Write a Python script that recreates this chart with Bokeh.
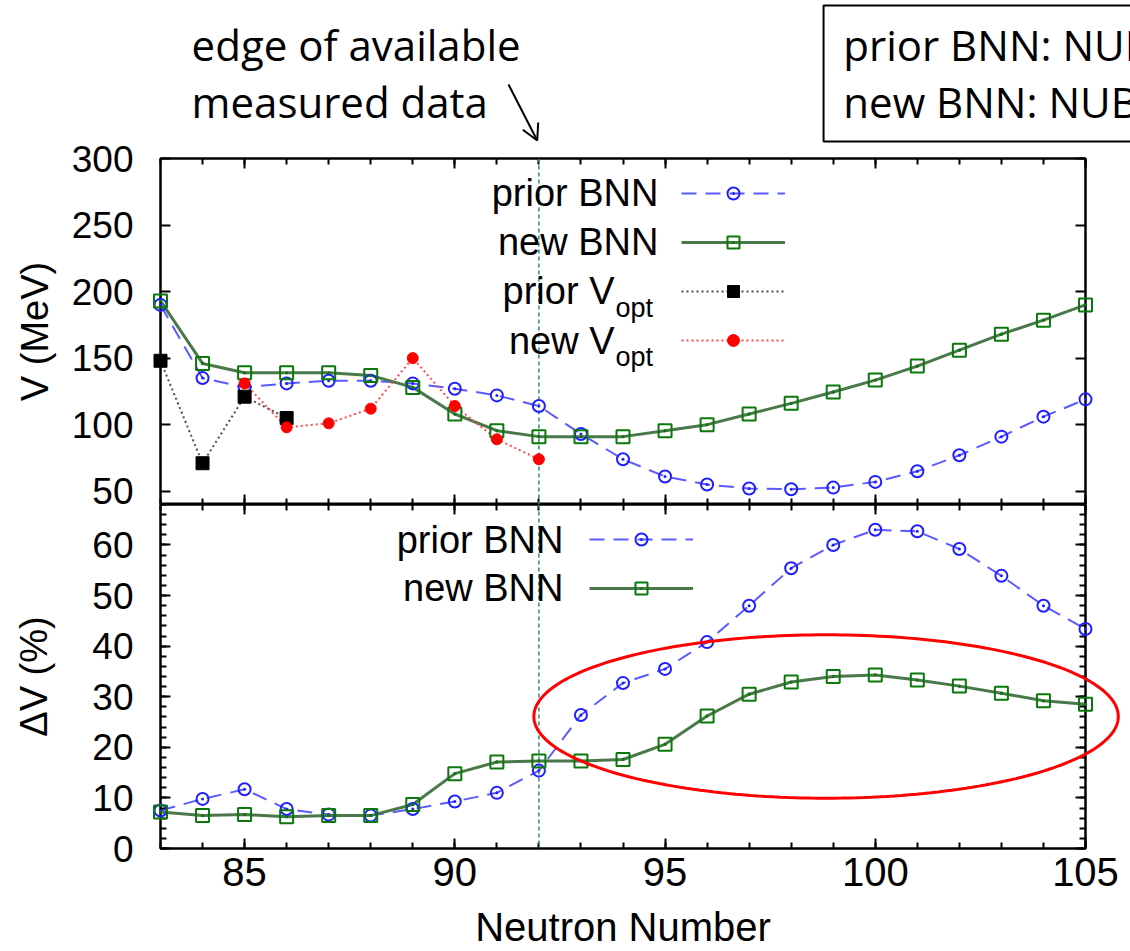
import numpy as np
from bokeh.plotting import figure
from bokeh.layouts import column
from bokeh.models import (LinearAxis, SingleIntervalTicker, Span, Label, Legend, LegendItem,
                          Range1d)
from bokeh.core.properties import value
from bokeh.embed import file_html
from bokeh.resources import INLINE

# ---------------- data ----------------
neutron_number = list(range(83, 106))

prior_bnn_v = [190, 135, 128, 131, 133, 133, 131, 127, 122, 114, 93, 74, 61, 55, 52, 51.5,
               52.7, 57, 65, 77, 91, 106, 119]
new_bnn_v = [193, 146, 139, 139, 139, 137, 128, 108, 95.5, 91, 91, 91, 95.5, 100, 108, 116,
             124.5, 133.5, 144, 156, 168, 178.5, 190]

prior_vopt_n = [83, 84, 85, 86]
prior_vopt = [148, 71, 121, 105]
new_vopt_n = [85, 86, 87, 88, 89, 90, 91, 92]
new_vopt = [131, 98, 101, 112, 150, 114, 89, 74]

prior_bnn_dv = [7.5, 9.8, 11.7, 7.8, 6.7, 6.5, 7.8, 9.3, 11, 15.4, 26.4, 32.7, 35.5, 40.8, 48,
                55.4, 60, 63, 62.7, 59.2, 53.9, 48, 43.4]
new_bnn_dv = [7.2, 6.5, 6.7, 6.3, 6.5, 6.5, 8.7, 14.8, 17.1, 17.3, 17.3, 17.6, 20.6, 26.2, 30.5,
              32.9, 34, 34.3, 33.3, 32.1, 30.7, 29.2, 28.5]

edge_n = 92
series_labels = ["prior BNN", "new BNN", "prior V", "new V"]
note_lines = ["edge of available", "measured data"]
box_lines = ["prior BNN: NUBASE", "new BNN: NUBASE"]

# ---------------- style ----------------
FONT = "Liberation Sans"
NOTE_FONT = "Open Sans"
BLUE = "#1f1fff"
BLUE_LINE = "#5a5aff"
GREEN = "#0a780a"
GREEN_LINE = "#4a784a"
TEAL = "#2a8c7c"


def base_fig(height, yr, b_top, b_bottom):
    p = figure(width=1130, height=height, x_range=Range1d(83, 105), y_range=Range1d(*yr),
               x_axis_location=None, y_axis_location=None, output_backend="svg",
               toolbar_location=None, min_border_left=160, min_border_right=45,
               min_border_top=b_top, min_border_bottom=b_bottom)
    p.outline_line_color = "black"
    p.outline_line_width = 2
    p.background_fill_color = "white"
    p.border_fill_color = "white"
    p.grid.visible = False
    return p


def add_axis(p, place, ticker, labels=False, size="37px", standoff=0,
             axis_label=None, axis_label_size="38px", axis_label_standoff=0):
    ax = LinearAxis(ticker=ticker)
    ax.major_tick_in = 10
    ax.major_tick_out = 0
    ax.minor_tick_in = 6
    ax.minor_tick_out = 0
    ax.major_tick_line_width = 2
    ax.minor_tick_line_width = 2
    ax.axis_line_width = 2
    ax.major_tick_line_color = "black"
    ax.minor_tick_line_color = "black"
    ax.axis_line_color = "black"
    if labels:
        ax.major_label_text_font = FONT
        ax.major_label_text_font_size = size
        ax.major_label_text_color = "black"
        ax.major_label_standoff = standoff
    else:
        ax.major_label_text_font_size = "0px"
        ax.major_label_text_color = None
        ax.major_label_standoff = 0
    if axis_label:
        ax.axis_label = axis_label
        ax.axis_label_text_font = FONT
        ax.axis_label_text_font_size = axis_label_size
        ax.axis_label_text_font_style = "normal"
        ax.axis_label_text_color = "black"
        ax.axis_label_standoff = axis_label_standoff
    p.add_layout(ax, place)
    return ax


def xt():
    return SingleIntervalTicker(interval=5, num_minor_ticks=5)


def text_label(p, x, y, text, size, align="right", baseline="middle"):
    p.add_layout(Label(x=x, y=y, text=text, text_font=FONT, text_font_size=size,
                       text_align=align, text_baseline=baseline, text_color="black"))


def legend(p, items, loc):
    lg = Legend(items=items, location=loc, glyph_width=104, glyph_height=30, spacing=19,
                padding=0, margin=0, label_width=0, label_standoff=0, label_height=10,
                label_text_font_size="1px", label_text_color=None,
                border_line_color=None, background_fill_alpha=0)
    p.add_layout(lg)


# ---------------- top panel ----------------
top = base_fig(504, (40, 300), 158, 0)
add_axis(top, "left", SingleIntervalTicker(interval=50, num_minor_ticks=0), labels=True,
         standoff=27, axis_label="V (MeV)", axis_label_standoff=13)
add_axis(top, "right", SingleIntervalTicker(interval=50, num_minor_ticks=0))
add_axis(top, "above", xt())
add_axis(top, "below", xt())

top.add_layout(Span(location=edge_n, dimension="height", line_color=TEAL, line_dash="4 3",
                    line_width=1.5))

l1 = top.line(neutron_number, prior_bnn_v, line_color=BLUE_LINE, line_width=2, line_dash="15 9")
m1 = top.scatter(neutron_number, prior_bnn_v, marker="circle_dot", size=12, line_color=BLUE,
                 fill_color=None, line_width=2, level="overlay")
l2 = top.line(neutron_number, new_bnn_v, line_color=GREEN_LINE, line_width=3)
m2 = top.scatter(neutron_number, new_bnn_v, marker="square_dot", size=13, line_color=GREEN,
                 fill_color=None, line_width=2, level="overlay")
l3 = top.line(prior_vopt_n, prior_vopt, line_color="#505050", line_width=2, line_dash="2 3")
m3 = top.scatter(prior_vopt_n, prior_vopt, marker="square", size=13, line_color="black",
                 fill_color="black", level="overlay")
l4 = top.line(new_vopt_n, new_vopt, line_color="#ff4a4a", line_width=2, line_dash="2 3")
m4 = top.scatter(new_vopt_n, new_vopt, marker="circle", size=11, line_color="red",
                 fill_color="red", level="overlay")

legend(top, [LegendItem(label=value(" "), renderers=[l1, m1]),
             LegendItem(label=value(" "), renderers=[l2, m2]),
             LegendItem(label=value(" "), renderers=[l3, m3]),
             LegendItem(label=value(" "), renderers=[l4, m4])], (521, 149))

text_label(top, 94.844, 273.7, series_labels[0], "38px")
text_label(top, 94.844, 236.9, series_labels[1], "38px")
text_label(top, 93.798, 200.1, series_labels[2], "38px")
text_label(top, 93.822, 187.3, "opt", "27px", align="left", baseline="alphabetic")
text_label(top, 93.798, 163.2, series_labels[3], "38px")
text_label(top, 93.822, 150.5, "opt", "27px", align="left", baseline="alphabetic")

# annotations above the frame (overlay level so they are not clipped to the frame)
note_x = [83.74, 83.74, 99.24, 99.24]
note_y = [385.6, 342.8, 385.6, 342.8]
top.text(x=note_x, y=note_y, text=note_lines + box_lines, text_font=value(NOTE_FONT),
         text_font_size=value("42px"), text_align="left", text_baseline="alphabetic",
         text_color="black", level="overlay")
# arrow: shaft + open head
top.segment(x0=[91.277, 91.960, 91.960], y0=[355.61, 313.53, 313.53],
            x1=[91.960, 91.618, 91.983], y1=[313.53, 321.64, 327.05],
            line_color="black", line_width=2, level="overlay")
# box around the data-source note
top.line(x=[106.8, 98.77, 98.77, 106.8], y=[415.0, 415.0, 312.8, 312.8],
         line_color="black", line_width=2, level="overlay")

# ---------------- bottom panel ----------------
bot = base_fig(447, (0, 68), 0, 103)
add_axis(bot, "left", SingleIntervalTicker(interval=10, num_minor_ticks=5), labels=True,
         standoff=27, axis_label="ΔV (%)", axis_label_standoff=34)
add_axis(bot, "right", SingleIntervalTicker(interval=10, num_minor_ticks=5))
add_axis(bot, "above", xt())
add_axis(bot, "below", xt(), labels=True, size="40px", standoff=9,
         axis_label="Neutron Number", axis_label_size="40px", axis_label_standoff=16)

bot.add_layout(Span(location=edge_n, dimension="height", line_color=TEAL, line_dash="4 3",
                    line_width=1.5))

b1 = bot.line(neutron_number, prior_bnn_dv, line_color=BLUE_LINE, line_width=2, line_dash="15 9")
bm1 = bot.scatter(neutron_number, prior_bnn_dv, marker="circle_dot", size=12, line_color=BLUE,
                  fill_color=None, line_width=2, level="overlay")
b2 = bot.line(neutron_number, new_bnn_dv, line_color=GREEN_LINE, line_width=3)
bm2 = bot.scatter(neutron_number, new_bnn_dv, marker="square_dot", size=13, line_color=GREEN,
                  fill_color=None, line_width=2, level="overlay")

legend(bot, [LegendItem(label=value(" "), renderers=[b1, bm1]),
             LegendItem(label=value(" "), renderers=[b2, bm2])], (429, 245))
text_label(bot, 92.585, 61.08, series_labels[0], "38px")
text_label(bot, 92.585, 51.40, series_labels[1], "38px")

# highlight ellipse (decoration, drawn unclipped so it can cross the right border)
ell_cx, ell_cy, ell_rx, ell_ry = 98.83, 26.1, 6.95, 16.15
t = np.linspace(0, 2 * np.pi, 241)
bot.line(x=list(ell_cx + ell_rx * np.cos(t)), y=list(ell_cy + ell_ry * np.sin(t)),
         line_color="red", line_width=3, level="overlay")

layout = column(top, bot, spacing=0)
open("out.html", "w").write(file_html(layout, INLINE))
